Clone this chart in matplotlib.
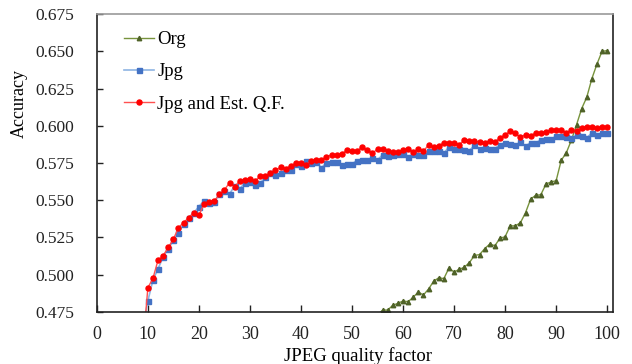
import matplotlib
matplotlib.use("Agg")
import matplotlib.pyplot as plt
import numpy as np

# quality factors
q_jpg = list(range(9, 101))
jpg = [0.4639,
       0.4824, 0.4965, 0.5040, 0.5120, 0.5175, 0.5230, 0.5280, 0.5339, 0.5383, 0.5416,
       0.5457, 0.5497, 0.5483, 0.5488, 0.5540, 0.5564, 0.5542, 0.5596, 0.5575, 0.5618,
       0.5622, 0.5604, 0.5613, 0.5654, 0.5681, 0.5672, 0.5681, 0.5703, 0.5703, 0.5743,
       0.5730, 0.5761, 0.5752, 0.5757, 0.5717, 0.5752, 0.5754, 0.5754, 0.5739, 0.5746,
       0.5745, 0.5766, 0.5770, 0.5770, 0.5784, 0.5770, 0.5806, 0.5799, 0.5804, 0.5810,
       0.5813, 0.5793, 0.5808, 0.5806, 0.5806, 0.5828, 0.5833, 0.5833, 0.5815, 0.5859,
       0.5846, 0.5846, 0.5837, 0.5833, 0.5869, 0.5844, 0.5853, 0.5846, 0.5846, 0.5873,
       0.5882, 0.5875, 0.5871, 0.5889, 0.5864, 0.5886, 0.5886, 0.5904, 0.5909, 0.5909,
       0.5931, 0.5931, 0.5927, 0.5918, 0.5936, 0.5931, 0.5918, 0.5953, 0.5936, 0.5949,
       0.5949]
est = [0.4505,
       0.4913, 0.4976, 0.5099, 0.5128, 0.5184, 0.5238, 0.5316, 0.5350, 0.5383, 0.5416,
       0.5399, 0.5475, 0.5490, 0.5493, 0.5540, 0.5569, 0.5618, 0.5591, 0.5630, 0.5634,
       0.5640, 0.5627, 0.5663, 0.5664, 0.5683, 0.5701, 0.5721, 0.5712, 0.5732, 0.5748,
       0.5752, 0.5739, 0.5763, 0.5770, 0.5770, 0.5792, 0.5804, 0.5807, 0.5810, 0.5837,
       0.5830, 0.5830, 0.5859, 0.5837, 0.5815, 0.5844, 0.5846, 0.5833, 0.5822, 0.5824,
       0.5837, 0.5844, 0.5824, 0.5842, 0.5830, 0.5871, 0.5857, 0.5866, 0.5884, 0.5884,
       0.5884, 0.5873, 0.5904, 0.5900, 0.5898, 0.5889, 0.5886, 0.5900, 0.5893, 0.5918,
       0.5940, 0.5963, 0.5949, 0.5922, 0.5940, 0.5931, 0.5953, 0.5949, 0.5960, 0.5971,
       0.5971, 0.5974, 0.5953, 0.5971, 0.5967, 0.5987, 0.5994, 0.5990, 0.5983, 0.5994,
       0.5991]

q_org = list(range(55, 101))
org = [0.4730,
       0.4763, 0.4763, 0.4795, 0.4808, 0.4824, 0.4819, 0.4849, 0.4884, 0.4864, 0.4904,
       0.4956, 0.4980, 0.4974, 0.5045, 0.5018, 0.5036, 0.5050, 0.5081, 0.5130, 0.5135,
       0.5175, 0.5206, 0.5195, 0.5245, 0.5255, 0.5328, 0.5328, 0.5349, 0.5416, 0.5508,
       0.5533, 0.5537, 0.5608, 0.5623, 0.5631, 0.5768, 0.5819, 0.5904, 0.6007, 0.6115,
       0.6191, 0.6316, 0.6414, 0.6500, 0.6504]

x_ticks = list(range(0, 101, 10))
y_ticks = [0.475, 0.500, 0.525, 0.550, 0.575, 0.600, 0.625, 0.650, 0.675]

plt.rcParams['font.family'] = ['Liberation Serif', 'DejaVu Serif']

fig = plt.figure(figsize=(6.32, 3.64), dpi=100)
ax = fig.add_axes([0.1532, 0.1429, 0.9704 - 0.1532, 0.9615 - 0.1429])

ax.plot(q_org, org, color='#77933c', lw=1.0, marker='^', ms=3.2,
        mfc='#4f6228', mec='#4f6228', label='Org', clip_on=True)
ax.plot(q_jpg, jpg, color='#8eb4e3', lw=1.2, marker='s', ms=3.6,
        mfc='#4472c4', mec='#4472c4', label='Jpg', clip_on=True)
ax.plot(q_jpg, est, color='#ff5050', lw=1.0, marker='o', ms=3.6,
        mfc='#ff0000', mec='#ff0000', label='Jpg and Est. Q.F.', clip_on=True)

ax.set_xlim(0, 101.2)
ax.set_ylim(0.475, 0.675)
ax.set_xticks(x_ticks)
ax.set_yticks(y_ticks)
ax.set_yticklabels([f"{v:.3f}" for v in y_ticks])
ax.tick_params(axis='x', direction='in', length=5, width=1, labelsize=13, pad=10, colors='#222222')
ax.tick_params(axis='y', direction='in', length=4, width=1, labelsize=12.5, pad=16, colors='#222222')

for side in ['left', 'bottom', 'right']:
    ax.spines[side].set_color('#222222')
    ax.spines[side].set_linewidth(1.2)
ax.spines['top'].set_color('#999999')
ax.spines['top'].set_linewidth(1.2)

ax.set_ylabel('Accuracy', fontsize=13)
ax.yaxis.set_label_coords(-0.133, 0.70)
ax.set_xlabel('JPEG quality factor', fontsize=13.5)
ax.xaxis.set_label_coords(0.505, -0.147)
ax.xaxis.label.set_va('center')

leg = ax.legend(loc='upper left', bbox_to_anchor=(0.03, 0.98), frameon=False,
                fontsize=13.5, handlelength=1.6, handletextpad=0.2,
                labelspacing=0.8, borderaxespad=0.2)

fig.savefig('out.png', dpi=100)
